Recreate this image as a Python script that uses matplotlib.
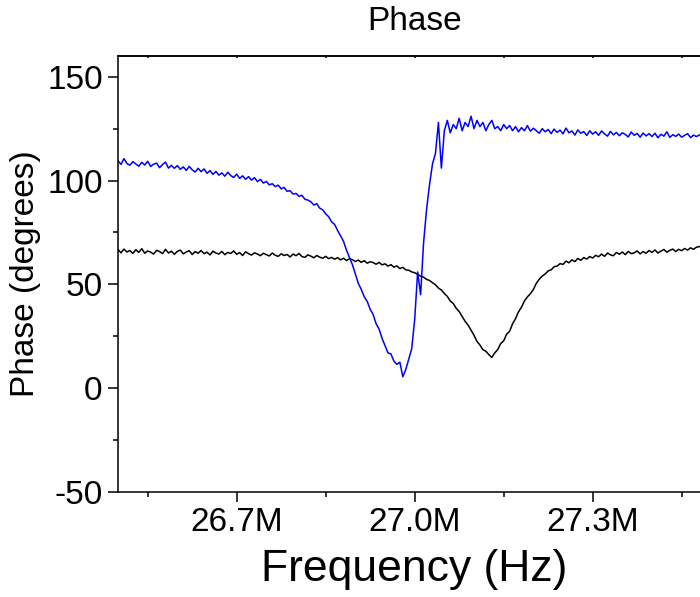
import numpy as np
import matplotlib
matplotlib.use("Agg")
import matplotlib.pyplot as plt
from matplotlib.ticker import MultipleLocator

plt.rcParams['font.family'] = ['Liberation Sans', 'DejaVu Sans']
plt.rcParams['axes.unicode_minus'] = False

# frequency sweep, MHz (uniform sweep 26.500 .. 27.480)
freq = np.linspace(26.50, 27.48, 197)

# phase of the blue trace (degrees)
phase_blue = [
    109.5, 107.8, 110.6, 108.2, 107.4, 109.1, 108.0, 106.9, 108.8, 107.5,
    109.3, 106.8, 107.9, 108.4, 106.2, 107.7, 108.9, 106.0, 107.3, 105.9,
    107.2, 105.4, 106.6, 104.9, 106.8, 105.2, 104.1, 105.9, 104.3, 105.6,
    103.5, 104.8, 103.0, 104.4, 102.6, 103.7, 102.1, 104.0, 102.4, 101.5,
    103.1, 101.0, 102.3, 100.6, 101.9, 100.2, 101.4, 99.5, 100.6, 98.8,
    99.6, 97.9, 98.5, 97.1, 97.8, 96.0, 96.7, 94.8, 95.1, 93.5,
    93.8, 92.4, 92.9, 91.0, 90.6, 89.8, 88.2, 88.9, 86.7, 85.9,
    84.0, 82.6, 80.1, 78.9, 76.0, 73.4, 70.8, 66.5, 63.0, 59.5,
    55.0, 50.5, 47.5, 44.0, 41.8, 38.0, 35.5, 31.0, 28.5, 24.0,
    20.5, 17.0, 16.5, 13.0, 11.5, 12.5, 5.5, 9.0, 14.0, 19.0,
    33.0, 56.0, 45.0, 70.0, 86.0, 98.0, 108.0, 113.0, 128.0, 106.0,
    124.0, 129.0, 123.0, 127.0, 125.0, 130.0, 124.0, 128.0, 126.0, 131.0,
    125.0, 129.0, 126.0, 128.0, 124.0, 127.0, 129.0, 125.0, 126.0, 124.0,
    127.0, 125.0, 126.5, 124.0, 126.0, 123.5, 125.5, 124.0, 126.5, 123.8,
    125.2, 124.0, 122.8, 125.0, 123.5, 124.6, 122.6, 124.8, 123.2, 124.3,
    122.5, 125.3, 123.0, 123.9, 121.9, 124.4, 122.8, 123.6, 121.7, 124.0,
    122.4, 123.5, 121.8, 123.9, 122.5, 121.4, 123.7, 122.0, 123.2, 121.6,
    123.0, 122.2, 121.0, 123.4, 121.8, 122.7, 120.9, 122.9, 121.5, 122.6,
    121.2, 122.8, 120.6, 122.3, 121.4, 123.5, 120.8, 122.1, 121.3, 122.4,
    120.9, 121.8, 122.6, 120.7, 121.9, 121.2, 122.0,
]

# phase of the black trace (degrees)
phase_black = [
    66.8, 65.2, 67.0, 65.6, 66.3, 64.9, 66.7, 65.4, 67.2, 65.0,
    66.1, 65.5, 64.6, 66.4, 65.8, 64.8, 66.9, 65.1, 66.0, 64.5,
    65.9, 66.5, 64.7, 65.6, 66.2, 64.4, 65.8, 65.0, 66.3, 64.8,
    65.5, 64.2, 66.0, 65.1, 64.6, 65.9, 64.3, 65.4, 64.9, 66.1,
    64.5, 65.3, 63.9, 65.7, 64.8, 64.1, 65.2, 64.6, 63.8, 65.0,
    64.3, 63.7, 65.1, 64.0, 63.5, 64.7, 63.9, 64.4, 63.2, 64.6,
    63.8, 64.9, 63.4, 63.0, 64.2, 63.6, 62.8, 63.9, 63.1, 62.6,
    63.5, 62.4, 63.0, 62.1, 62.9, 61.8, 62.6, 61.5, 62.3, 61.9,
    61.0, 61.7, 60.6, 61.4, 60.2, 60.9, 60.5, 59.7, 60.6, 59.4,
    59.9, 58.8, 59.5, 58.3, 58.9, 57.6, 58.2, 57.0, 56.8, 56.0,
    55.6, 54.8, 54.0, 53.5, 52.4, 51.9, 50.8, 49.8, 48.2, 47.3,
    45.6, 44.2, 42.0, 40.8, 38.5, 36.9, 34.6, 32.2, 30.4, 27.9,
    25.5, 22.5, 20.8, 18.5, 17.8, 16.2, 14.8, 17.0, 18.6, 21.5,
    22.8, 26.0, 27.4, 31.0, 33.5, 36.8, 39.0, 42.0, 44.0, 45.5,
    47.5, 50.5, 52.5, 54.0, 55.0, 56.5, 57.0, 58.5, 58.8, 60.0,
    59.6, 61.2, 60.4, 61.8, 61.0, 62.5, 61.6, 62.9, 62.2, 63.4,
    62.7, 64.0, 63.3, 64.6, 63.5, 65.1, 64.2, 63.8, 65.4, 64.5,
    65.6, 64.3, 65.9, 64.8, 65.2, 66.1, 64.7, 65.8, 65.0, 66.3,
    65.4, 66.6, 65.1, 66.0, 66.8, 65.5, 66.4, 67.0, 65.8, 66.9,
    66.2, 67.3, 66.5, 67.6, 66.9, 67.9, 68.2,
]

xtick_pos = [26.7, 27.0, 27.3]
xtick_labels = ["26.7M", "27.0M", "27.3M"]
ytick_pos = [-50, 0, 50, 100, 150]

fig = plt.figure(figsize=(7, 5.97), dpi=100)
# the original plot runs past the right edge of the image
ax = fig.add_axes([0.1686, 0.1759, 0.8476, 0.7303])

ax.plot(freq, phase_black, color='black', lw=1.1)
ax.plot(freq, phase_blue, color='#0000ff', lw=1.1)

ax.set_xlim(26.5, 27.5)
ax.set_ylim(-50, 160)
ax.set_xticks(xtick_pos, xtick_labels)
ax.set_yticks(ytick_pos)
ax.xaxis.set_minor_locator(MultipleLocator(0.15))
ax.yaxis.set_minor_locator(MultipleLocator(25))

for s in ax.spines.values():
    s.set_linewidth(1.1)

ax.tick_params(axis='both', which='major', direction='out', length=7,
               width=1.1, labelsize=24, pad=4)
ax.tick_params(axis='both', which='minor', direction='out', length=3.5, width=1.1)

# tiny inward marks on the top spine
top = ax.secondary_xaxis('top')
top.set_xticks(xtick_pos, [])
top.xaxis.set_minor_locator(MultipleLocator(0.15))
top.tick_params(which='both', direction='in', length=1.5, width=1.1)
top.spines['top'].set_linewidth(1.1)

ax.set_title("Phase", fontsize=24, pad=19)
ax.set_xlabel("Frequency (Hz)", fontsize=32)
ax.set_ylabel("Phase (degrees)", fontsize=24)
ax.xaxis.set_label_coords(0.5, -0.13)
ax.yaxis.set_label_coords(-0.13, 0.5)

fig.savefig("out.png", dpi=100)
